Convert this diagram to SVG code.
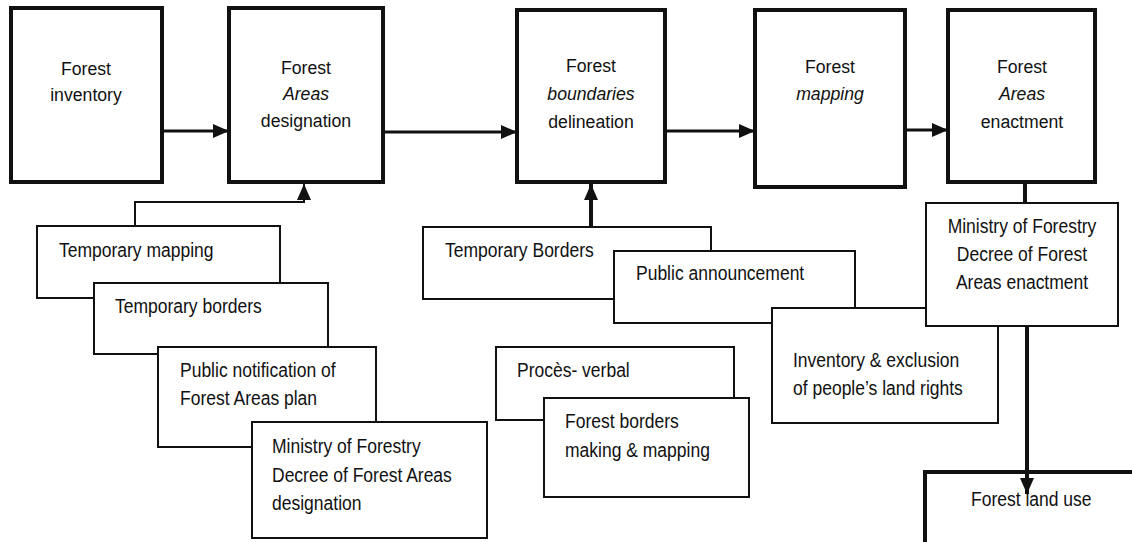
<svg xmlns="http://www.w3.org/2000/svg" width="1132" height="542" viewBox="0 0 1132 542">
<style>
.main{fill:#fff;stroke:#111;stroke-width:4}
.sub{fill:#fff;stroke:#111;stroke-width:2}
.tt{font-family:"Liberation Sans",Arial,sans-serif;font-size:19px;fill:#111;text-anchor:middle}
.t{font-family:"Liberation Sans",Arial,sans-serif;font-size:20px;fill:#111}
.tc{font-family:"Liberation Sans",Arial,sans-serif;font-size:20px;fill:#111;text-anchor:middle}
.i{font-style:italic}
.c3{fill:none;stroke:#111;stroke-width:3}
.c2{fill:none;stroke:#111;stroke-width:2}
.c4{fill:none;stroke:#111;stroke-width:4}
</style>
<defs>
<marker id="ah" markerWidth="16" markerHeight="14" refX="16" refY="7" orient="auto" markerUnits="userSpaceOnUse">
<path d="M0,0 L16,7 L0,14 Z" fill="#111"/>
</marker>
</defs>
<rect width="1132" height="542" fill="#fff"/>

<g id="n-inventory">
<rect class="main" x="11" y="8" width="151" height="174"/>
<text class="tt" transform="translate(86,75) scale(0.93,1)">Forest</text>
<text class="tt" transform="translate(86,101) scale(0.93,1)">inventory</text>
</g>
<g id="n-designation">
<rect class="main" x="229" y="8" width="154" height="174"/>
<text class="tt" transform="translate(306,74) scale(0.93,1)">Forest</text>
<text class="tt i" transform="translate(306,100) scale(0.93,1)">Areas</text>
<text class="tt" transform="translate(306,127) scale(0.93,1)">designation</text>
</g>
<g id="n-delineation">
<rect class="main" x="517" y="10" width="148" height="172"/>
<text class="tt" transform="translate(591,72) scale(0.93,1)">Forest</text>
<text class="tt i" transform="translate(591,100) scale(0.93,1)">boundaries</text>
<text class="tt" transform="translate(591,128) scale(0.93,1)">delineation</text>
</g>
<g id="n-mapping">
<rect class="main" x="755" y="10" width="150" height="177"/>
<text class="tt" transform="translate(830,73) scale(0.93,1)">Forest</text>
<text class="tt i" transform="translate(830,100) scale(0.93,1)">mapping</text>
</g>
<g id="n-enactment">
<rect class="main" x="948" y="10" width="147" height="172"/>
<text class="tt" transform="translate(1022,73) scale(0.93,1)">Forest</text>
<text class="tt i" transform="translate(1022,100) scale(0.93,1)">Areas</text>
<text class="tt" transform="translate(1022,128) scale(0.93,1)">enactment</text>
</g>

<g id="n-temp-mapping">
<rect class="sub" x="37" y="226" width="243" height="72"/>
<text class="t" transform="translate(59,257) scale(0.875,1)">Temporary mapping</text>
</g>
<g id="n-temp-borders">
<rect class="sub" x="94" y="283" width="234" height="71"/>
<text class="t" transform="translate(115,313) scale(0.875,1)">Temporary borders</text>
</g>
<g id="n-public-notification">
<rect class="sub" x="158" y="347" width="218" height="100"/>
<text class="t" transform="translate(180,377) scale(0.875,1)">Public notification of</text>
<text class="t" transform="translate(180,405) scale(0.875,1)">Forest Areas plan</text>
</g>
<g id="n-decree-designation">
<rect class="sub" x="252" y="422" width="235" height="116"/>
<text class="t" transform="translate(272,453) scale(0.875,1)">Ministry of Forestry</text>
<text class="t" transform="translate(272,482) scale(0.875,1)">Decree of Forest Areas</text>
<text class="t" transform="translate(272,510) scale(0.875,1)">designation</text>
</g>

<g id="n-temp-borders2">
<rect class="sub" x="423" y="227" width="288" height="72"/>
<text class="t" transform="translate(445,257) scale(0.875,1)">Temporary Borders</text>
</g>
<g id="n-public-announcement">
<rect class="sub" x="614" y="251" width="241" height="72"/>
<text class="t" transform="translate(636,280) scale(0.875,1)">Public announcement</text>
</g>
<g id="n-inventory-exclusion">
<rect class="sub" x="772" y="308" width="226" height="115"/>
<text class="t" transform="translate(793,367) scale(0.875,1)">Inventory &amp; exclusion</text>
<text class="t" transform="translate(793,395) scale(0.875,1)">of people’s land rights</text>
</g>
<g id="n-decree-enactment">
<rect class="sub" x="926" y="203" width="192" height="123"/>
<text class="tc" transform="translate(1022,233) scale(0.875,1)">Ministry of Forestry</text>
<text class="tc" transform="translate(1022,261) scale(0.875,1)">Decree of Forest</text>
<text class="tc" transform="translate(1022,289) scale(0.875,1)">Areas enactment</text>
</g>

<g id="n-proces-verbal">
<rect class="sub" x="496" y="347" width="238" height="73"/>
<text class="t" transform="translate(517,377) scale(0.875,1)">Procès- verbal</text>
</g>
<g id="n-forest-borders">
<rect class="sub" x="544" y="398" width="205" height="99"/>
<text class="t" transform="translate(565,428) scale(0.875,1)">Forest borders</text>
<text class="t" transform="translate(565,457) scale(0.875,1)">making &amp; mapping</text>
</g>

<g id="n-land-use">
<path d="M1134,472 L925,472 L925,546" fill="#fff" stroke="#111" stroke-width="4"/>
<text class="t" transform="translate(971,506) scale(0.875,1)">Forest land use</text>
</g>

<g id="connectors">
<line class="c3" x1="162" y1="131" x2="229" y2="131" marker-end="url(#ah)"/>
<line class="c3" x1="383" y1="132" x2="517" y2="132" marker-end="url(#ah)"/>
<line class="c3" x1="665" y1="131" x2="755" y2="131" marker-end="url(#ah)"/>
<line class="c3" x1="905" y1="130" x2="948" y2="130" marker-end="url(#ah)"/>
<polyline class="c2" points="135,226 135,202 304,202 304,184" marker-end="url(#ah)"/>
<line class="c4" x1="591" y1="227" x2="591" y2="184" marker-end="url(#ah)"/>
<line class="c4" x1="1025" y1="182" x2="1025" y2="203"/>
<line class="c4" x1="1027" y1="326" x2="1027" y2="494" marker-end="url(#ah)"/>
</g>
</svg>
